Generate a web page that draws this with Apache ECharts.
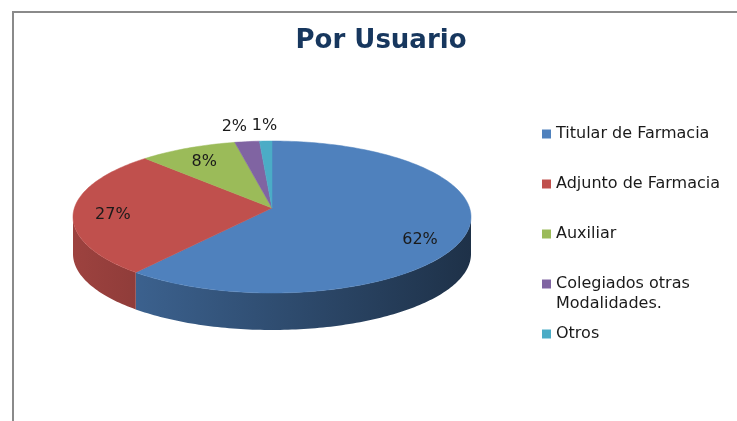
<!DOCTYPE html>
<html>
<head>
<meta charset="utf-8">
<script src="https://cdn.jsdelivr.net/npm/echarts@6/dist/echarts.min.js"></script>
<style>
html, body { margin: 0; padding: 0; background: #fff; }
#chart { width: 737px; height: 421px; }
</style>
</head>
<body>
<div id="chart"></div>
<script>
// datos
var categories = ['Titular de Farmacia', 'Adjunto de Farmacia', 'Auxiliar', 'Colegiados otras\nModalidades.', 'Otros'];
var values = [62, 27, 8, 2, 1];
var colors = ['#4f81bd', '#c0504d', '#9bbb59', '#8064a2', '#4bacc6'];

var total = values.reduce(function (s, v) { return s + v; }, 0);

// geometria de la tarta 3d (elipse + canto)
var cx = 272, cy = 217, rx = 199, ry = 76, depth = 37, lift = 9;

function shade(hex, k) {
    var n = parseInt(hex.slice(1), 16);
    var r = Math.round(((n >> 16) & 255) * k);
    var g = Math.round(((n >> 8) & 255) * k);
    var b = Math.round((n & 255) * k);
    return 'rgb(' + r + ',' + g + ',' + b + ')';
}
function rim(t, dy) {
    return [cx + rx * Math.sin(t), cy - ry * Math.cos(t) + dy];
}
function arc(a, b, dy) {
    var pts = [];
    var n = Math.max(2, Math.ceil((b - a) / 0.02));
    for (var i = 0; i <= n; i++) pts.push(rim(a + (b - a) * i / n, dy));
    return pts;
}

var start = 0;
var series = values.map(function (v, idx) {
    var s = start;
    start += v;
    return {
        type: 'custom',
        name: categories[idx],
        coordinateSystem: 'none',
        itemStyle: { color: colors[idx] },
        data: [[s, s + v]],
        renderItem: function (params, api) {
            var v0 = api.value(0), v1 = api.value(1);
            var a = v0 / total * 2 * Math.PI, b = v1 / total * 2 * Math.PI;
            var col = colors[idx];
            var children = [];
            // canto visible (mitad delantera)
            var sa = Math.max(a, Math.PI / 2), sb = Math.min(b, Math.PI * 1.5);
            if (sb > sa) {
                var side = arc(sa, sb, 0).concat(arc(sa, sb, depth).reverse());
                children.push({
                    type: 'polygon', z2: 1,
                    shape: { points: side },
                    style: {
                        fill: new echarts.graphic.LinearGradient(cx - rx, 0, cx + rx, 0, [
                            { offset: 0, color: shade(col, 0.82) },
                            { offset: 1, color: shade(col, 0.38) }
                        ], true),
                        stroke: null
                    }
                });
            }
            // cara superior
            var top = [[cx, cy - lift]].concat(arc(a, b, 0));
            children.push({
                type: 'polygon', z2: 5,
                shape: { points: top },
                style: { fill: col, stroke: col, lineWidth: 0.5 }
            });
            // etiqueta: dentro para porciones grandes, fuera para las pequeñas
            var m = (a + b) / 2;
            var frac = (v1 - v0) / total;
            var small = frac < 0.05;
            var r = small ? 1.2 : 0.8;
            var align = 'center';
            var lx = cx + rx * r * Math.sin(m);
            if (small && Math.sin(m) < -0.05) {
                align = 'right';
                lx = cx + rx * Math.sin(m);
            }
            children.push({
                type: 'text', z2: 10,
                x: lx,
                y: cy - ry * r * Math.cos(m),
                style: {
                    text: Math.round(frac * 100) + '%',
                    align: align, verticalAlign: 'middle',
                    fontFamily: 'DejaVu Sans', fontSize: 16,
                    fill: '#1a1a1a'
                }
            });
            return { type: 'group', children: children };
        }
    };
});

var myChart = echarts.init(document.getElementById('chart'));
var option = {
    animation: false,
    title: {
        text: 'Por Usuario',
        left: 381,
        top: 28,
        padding: 0,
        textAlign: 'center',
        textStyle: {
            fontFamily: 'DejaVu Sans',
            fontWeight: 'bold',
            fontSize: 26,
            color: '#17375e'
        }
    },
    legend: {
        orient: 'vertical',
        left: 542,
        top: 104,
        padding: 0,
        itemWidth: 9,
        itemHeight: 9,
        itemGap: -10,
        icon: 'rect',
        selectedMode: false,
        textStyle: {
            fontFamily: 'DejaVu Sans',
            fontSize: 16,
            color: '#1a1a1a',
            lineHeight: 60
        },
        data: categories.map(function (n) {
            return n.indexOf('\n') >= 0 ? { name: n, textStyle: { lineHeight: 20 } } : n;
        }),
        formatter: function (n) {
            return n.indexOf('\n') >= 0 ? '\n' + n : n;
        }
    },
    graphic: [{
        type: 'polyline',
        silent: true,
        shape: { points: [[13, 421], [13, 12], [737, 12]] },
        style: { stroke: '#8a8a8a', lineWidth: 2, fill: null }
    }],
    series: series
};
myChart.setOption(option);
</script>
</body>
</html>
